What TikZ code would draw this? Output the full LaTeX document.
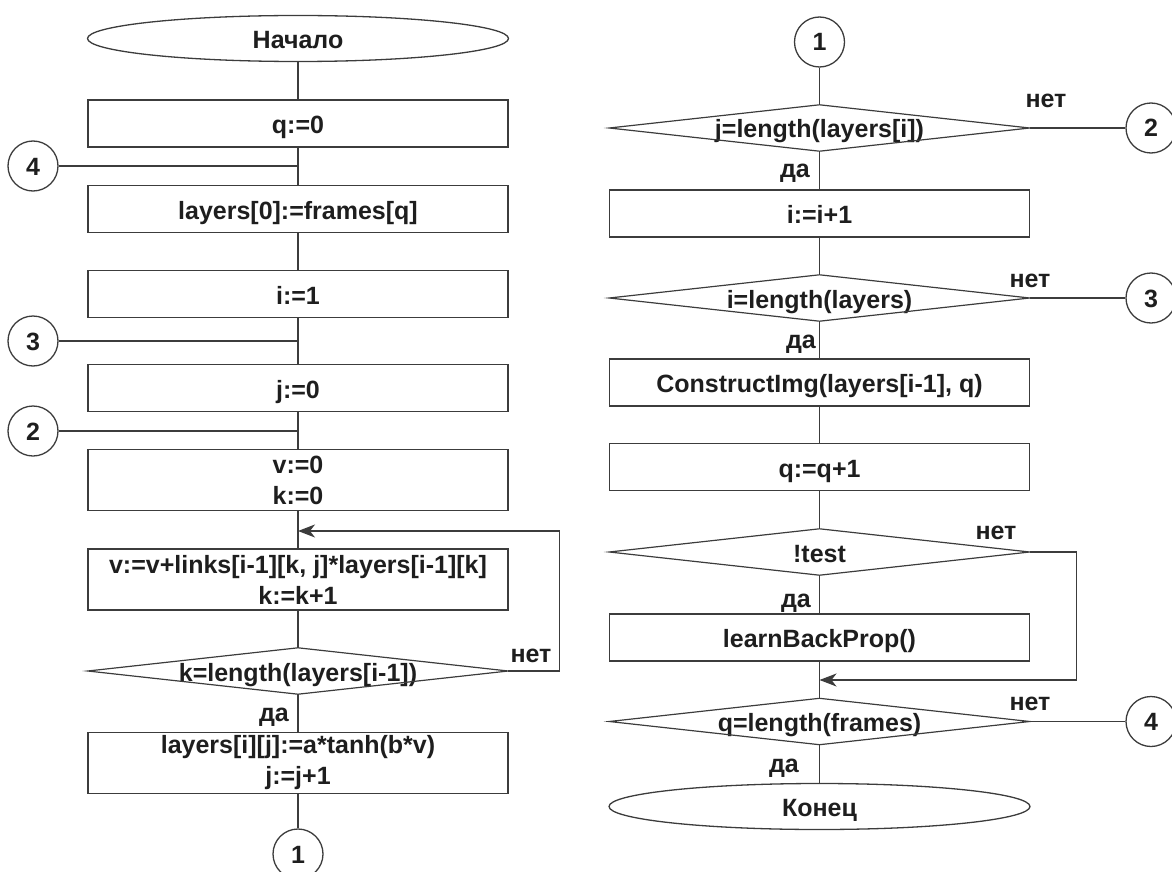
\documentclass[tikz,border=0pt]{standalone}
\usepackage{fontspec}
\setmainfont{Liberation Sans}
\usetikzlibrary{shapes.geometric,arrows.meta}
\definecolor{ln}{HTML}{3C3C3C}
\definecolor{tx}{HTML}{1E1E1E}
\begin{document}
\begin{tikzpicture}[x=1pt,y=-1pt,
  font=\fontsize{25}{31}\selectfont\bfseries,
  every node/.style={text=tx},
  box/.style={draw=ln, line width=1.6pt, rectangle, minimum width=420pt, minimum height=47pt, inner sep=0pt, align=center},
  one/.style={text height=20pt, text depth=0pt},
  two/.style={minimum height=61pt},
  term/.style={draw=ln, line width=1.3pt, ellipse, minimum width=421pt, minimum height=46pt, inner sep=0pt, text height=20pt, text depth=0pt},
  dec/.style={rectangle, minimum width=420pt, minimum height=46pt, inner sep=0pt, text height=20pt, text depth=0pt},
  decline/.style={draw=ln, line width=1.2pt, line join=miter},
  conn/.style={draw=ln, line width=1.3pt, circle, minimum size=50pt, inner sep=0pt, text height=18pt, text depth=0pt},
  flow/.style={draw=ln, line width=1.2pt},
  arr/.style={flow, -{Stealth[length=17pt, width=13pt, inset=5pt]}},
  lbl/.style={inner sep=0pt, text height=18pt, text depth=0pt},
]
\useasboundingbox (0,0) rectangle (1172,872);

% ---------- left column ----------
\node[term] (start) at (298,38.5) {Начало};
\node[box,one] (b1) at (298,123.5) {q:=0};
\node[box,one] (b2) at (298,209) {layers[0]:=frames[q]};
\node[box,one] (b3) at (298,294) {i:=1};
\node[box,one] (b4) at (298,388) {j:=0};
\node[box,two] (b5) at (298,480) {v:=0\\k:=0};
\node[box,two] (b6) at (298,579.5) {v:=v+links[i-1][k, j]*layers[i-1][k]\\k:=k+1};
\node[dec] (d1) at (298,671) {k=length(layers[i-1])};
\node[box,two] (b7) at (298,763) {layers[i][j]:=a*tanh(b*v)\\j:=j+1};
\node[conn] (c1a) at (298,854) {1};
\node[conn] (c4a) at (33,166) {4};
\node[conn] (c3a) at (33,341) {3};
\node[conn] (c2a) at (33,431) {2};
\coordinate (m1) at (298,531);

\draw[decline] (d1.west) -- (d1.north) -- (d1.east) -- (d1.south) -- cycle;

\draw[flow] (start.south) -- (b1.north);
\draw[flow] (b1.south) -- (b2.north);
\draw[flow] (b2.south) -- (b3.north);
\draw[flow] (b3.south) -- (b4.north);
\draw[flow] (b4.south) -- (b5.north);
\draw[flow] (b5.south) -- (b6.north);
\draw[flow] (b6.south) -- (d1.north);
\draw[flow] (d1.south) -- (b7.north);
\draw[flow] (b7.south) -- (c1a.north);
\draw[flow] (c4a.east) -- (c4a -| b1.center);
\draw[flow] (c3a.east) -- (c3a -| b1.center);
\draw[flow] (c2a.east) -- (c2a -| b1.center);
\draw[arr] (d1.east) -- ++(51,0) |- (m1);
\node[lbl] (n1) at (531,653) {нет};
\node[lbl] (y1) at (274,712) {да};

% ---------- right column ----------
\node[conn] (c1b) at (819.5,42) {1};
\node[dec] (d2) at (819.5,128) {j=length(layers[i])};
\node[box,one] (b8) at (819.5,213.5) {i:=i+1};
\node[dec] (d3) at (819.5,298) {i=length(layers)};
\node[box,one] (b9) at (819.5,382.5) {ConstructImg(layers[i-1], q)};
\node[box,one] (b10) at (819.5,467) {q:=q+1};
\node[dec] (d4) at (819.5,552) {!test};
\node[box,one] (b11) at (819.5,637.5) {learnBackProp()};
\node[dec] (d5) at (819.5,721.5) {q=length(frames)};
\node[term] (end) at (819.5,806.5) {Конец};
\node[conn] (c2b) at (1151,128) {2};
\node[conn] (c3b) at (1151,298) {3};
\node[conn] (c4b) at (1151,721.5) {4};
\coordinate (m2) at (819.5,680);

\foreach \d in {d2,d3,d4,d5}
  \draw[decline] (\d.west) -- (\d.north) -- (\d.east) -- (\d.south) -- cycle;

\draw[flow] (c1b.south) -- (d2.north);
\draw[flow] (d2.south) -- (b8.north);
\draw[flow] (b8.south) -- (d3.north);
\draw[flow] (d3.south) -- (b9.north);
\draw[flow] (b9.south) -- (b10.north);
\draw[flow] (b10.south) -- (d4.north);
\draw[flow] (d4.south) -- (b11.north);
\draw[flow] (b11.south) -- (d5.north);
\draw[flow] (d5.south) -- (end.north);
\draw[flow] (d2.east) -- (c2b.west);
\draw[flow] (d3.east) -- (c3b.west);
\draw[flow] (d5.east) -- (c4b.west);
\draw[arr] (d4.east) -- ++(47,0) |- (m2);

\node[lbl] (n2) at (1046,99) {нет};
\node[lbl] (y2) at (795,168) {да};
\node[lbl] (n3) at (1030,278) {нет};
\node[lbl] (y3) at (801,339) {да};
\node[lbl] (n4) at (996,530) {нет};
\node[lbl] (y4) at (796,598) {да};
\node[lbl] (n5) at (1030,701) {нет};
\node[lbl] (y5) at (784,763) {да};
\end{tikzpicture}
\end{document}
